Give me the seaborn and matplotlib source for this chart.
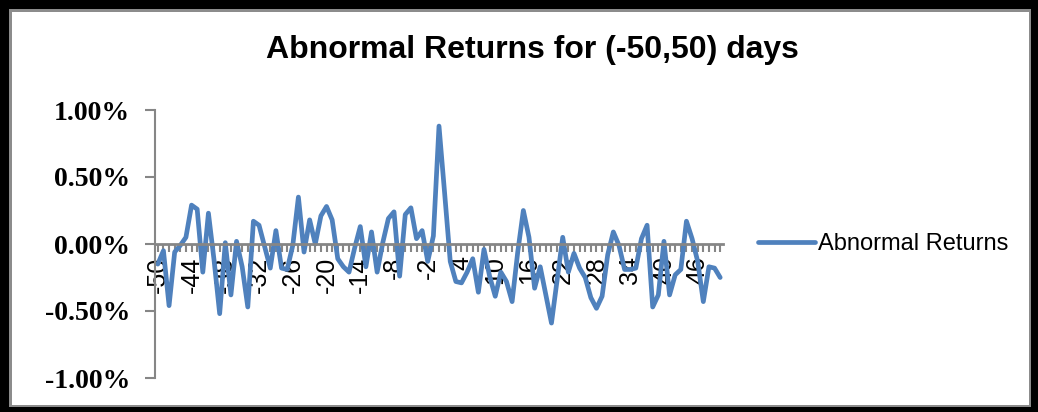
import numpy as np
import pandas as pd
import matplotlib
matplotlib.use("Agg")
import matplotlib.pyplot as plt
import seaborn as sns
from matplotlib.patches import Rectangle
from matplotlib.ticker import FixedLocator, MultipleLocator

# Event window: day -50 .. 50
days = list(range(-50, 51))

# Abnormal returns in percent, one value per event day
abnormal_returns = [
    -0.15, -0.05, -0.46, -0.06, -0.01, 0.05, 0.29, 0.26, -0.21, 0.23,   # -50 .. -41
    -0.12, -0.52, 0.01, -0.38, 0.02, -0.17, -0.47, 0.17, 0.14, -0.02,   # -40 .. -31
    -0.18, 0.10, -0.18, -0.19, -0.01, 0.35, -0.06, 0.18, 0.00, 0.21,    # -30 .. -21
    0.28, 0.18, -0.11, -0.17, -0.21, -0.03, 0.13, -0.17, 0.09, -0.21,   # -20 .. -11
    0.01, 0.19, 0.24, -0.24, 0.22, 0.27, 0.04, 0.10, -0.13, 0.06,       # -10 .. -1
    0.88,                                                               # 0
    0.38, -0.13, -0.28, -0.29, -0.21, -0.11, -0.36, -0.04, -0.24, -0.39,  # 1 .. 10
    -0.21, -0.28, -0.43, -0.06, 0.25, 0.05, -0.33, -0.17, -0.38, -0.59,   # 11 .. 20
    -0.27, 0.05, -0.21, -0.07, -0.18, -0.25, -0.40, -0.48, -0.39, -0.08,  # 21 .. 30
    0.09, -0.01, -0.19, -0.19, -0.18, 0.04, 0.14, -0.47, -0.38, 0.02,     # 31 .. 40
    -0.38, -0.23, -0.19, 0.17, 0.04, -0.13, -0.43, -0.17, -0.18, -0.25,   # 41 .. 50
]

tick_days = list(range(-50, 51, 6))
y_ticks = [-1.0, -0.5, 0.0, 0.5, 1.0]

title_text = "Abnormal Returns for (-50,50) days"
series_name = "Abnormal Returns"

df = pd.DataFrame({"day": days, "ret": abnormal_returns})

sns.set_style("white")
plt.rcParams["font.family"] = ["Liberation Sans", "DejaVu Sans"]
plt.rcParams["text.color"] = "black"
plt.rcParams["xtick.color"] = "black"
plt.rcParams["ytick.color"] = "black"

W, H = 1038, 412
fig = plt.figure(figsize=(W / 100, H / 100), dpi=100)
fig.patch.set_facecolor("white")

# Chart frame: heavy black border with a thin grey line inside
fig.add_artist(Rectangle((0, 0), 1, 1, transform=fig.transFigure,
                         facecolor="black", edgecolor="none", zorder=-3))
fig.add_artist(Rectangle((9 / W, 5 / H), (W - 16) / W, (H - 14) / H,
                         transform=fig.transFigure, facecolor="#8c8c8c",
                         edgecolor="none", zorder=-2))
fig.add_artist(Rectangle((12 / W, 7 / H), (W - 21) / W, (H - 19) / H,
                         transform=fig.transFigure, facecolor="white",
                         edgecolor="none", zorder=-1))

x0, x1 = 155, 723
y_top, y_bot = 110, 378
ax = fig.add_axes([x0 / W, 1 - y_bot / H, (x1 - x0) / W, (y_bot - y_top) / H])
ax.set_facecolor("none")

sns.lineplot(data=df, x="day", y="ret", ax=ax, color="#4F81BD",
             linewidth=3.4, label=series_name, legend=False)

ax.set_xlim(-50.5, 50.5)
ax.set_ylim(-1.0, 1.0)
ax.set_xlabel("")
ax.set_ylabel("")

axis_grey = "#868686"
for side in ["top", "right"]:
    ax.spines[side].set_visible(False)
ax.spines["left"].set_color(axis_grey)
ax.spines["left"].set_linewidth(1.5)
ax.spines["bottom"].set_color(axis_grey)
ax.spines["bottom"].set_linewidth(2.0)
ax.spines["bottom"].set_position(("data", 0))

# Category axis: a tick under every day, a label every sixth day
ax.xaxis.set_major_locator(FixedLocator(tick_days))
ax.xaxis.set_minor_locator(MultipleLocator(1))
ax.set_xticklabels([str(d) for d in tick_days], rotation=90,
                   fontsize=18, family=["Liberation Sans", "DejaVu Sans"])
ax.tick_params(axis="x", which="both", bottom=True, direction="out",
               length=6, width=1.5, color=axis_grey, labelcolor="black", pad=3)

ax.yaxis.set_major_locator(FixedLocator(y_ticks))
ax.set_yticklabels([f"{v:.2f}%" for v in y_ticks], fontsize=20,
                   fontweight="bold", family=["Liberation Serif", "DejaVu Serif"])
ax.tick_params(axis="y", which="major", left=True, direction="out", length=7,
               width=1.5, color=axis_grey, labelcolor="black", pad=11)

fig.text(532 / W, 1 - 58 / H, title_text, ha="center", va="baseline",
         fontsize=23, fontweight="bold", color="black",
         family=["Liberation Sans Narrow", "Liberation Sans", "DejaVu Sans"])

leg = fig.legend(handles=ax.get_lines()[:1], labels=[series_name],
                 loc="center left", bbox_to_anchor=(758 / W, 1 - 244 / H),
                 frameon=False, fontsize=17, handlelength=2.4,
                 handletextpad=0.15, borderaxespad=0, borderpad=0)
for t in leg.get_texts():
    t.set_family(["Liberation Sans Narrow", "Liberation Sans", "DejaVu Sans"])
    t.set_color("black")

fig.savefig("out.png", dpi=100, facecolor=fig.get_facecolor())
